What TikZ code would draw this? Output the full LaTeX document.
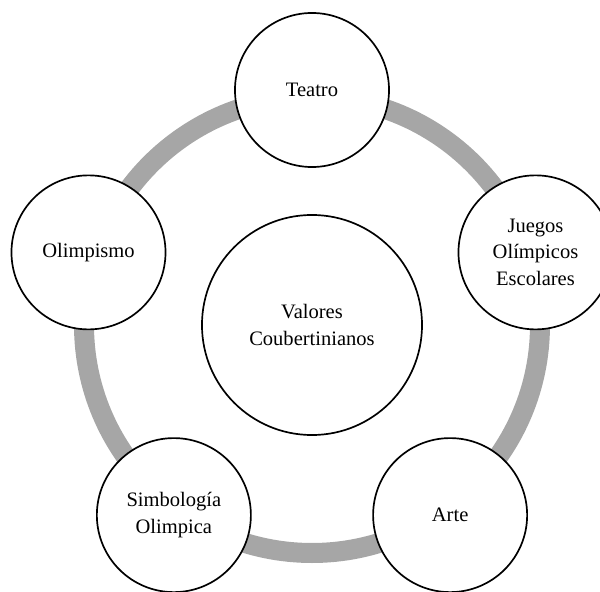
\documentclass[tikz,border=0pt]{standalone}
\usepackage{fontspec}
\setmainfont{Liberation Serif}
\definecolor{anillogris}{RGB}{166,166,166}
\tikzset{
  tema/.style = {draw, circle, line width = 1.2pt, fill = white, minimum size = 3.85cm,
                 inner sep = 0pt, align = center, font = \fontsize{14.6}{18.6}\selectfont},
  anillo/.style = {draw = anillogris, line width = 0.5cm}
}
\begin{document}
\begin{tikzpicture}[x = 0.025cm, y = 0.025cm]
\useasboundingbox (-312, -267) rectangle (288, 325);

\coordinate (O) at (0, 0);
\draw[anillo] (O) circle (228);

\node[tema, minimum size = 5.5cm] at (O) (valores) {Valores\\Coubertinianos};

\node[tema] at (90:235)  (teatro)     {Teatro};
\node[tema] at (18:235)  (juegos)     {Juegos\\Olímpicos\\Escolares};
\node[tema] at (162:235) (olimpismo)  {Olimpismo};
\node[tema] at (234:235) (simbologia) {Simbología\\Olimpica};
\node[tema] at (306:235) (arte)       {Arte};

\end{tikzpicture}
\end{document}
